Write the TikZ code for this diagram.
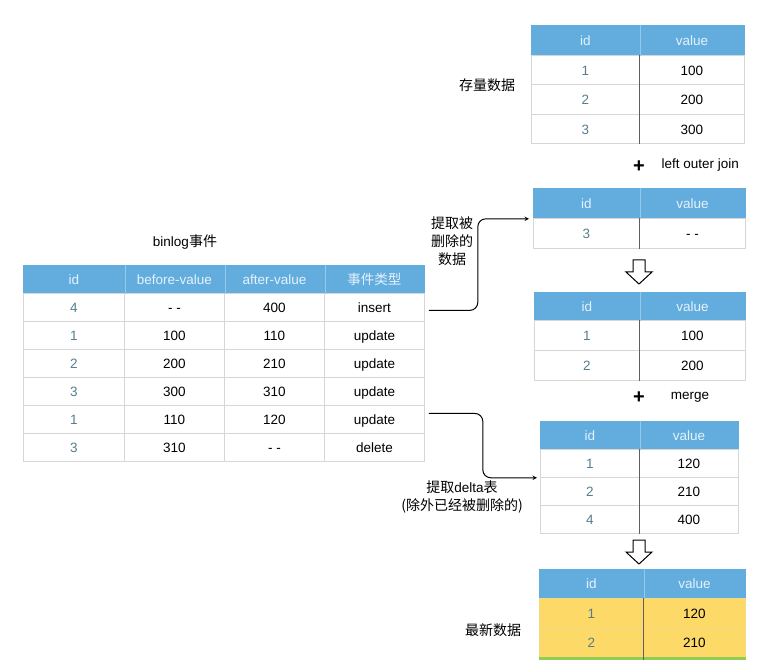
\documentclass[tikz,border=0pt]{standalone}
\usepackage{fontspec}
\setmainfont{Liberation Sans}
\newfontfamily\cjk{Noto Sans CJK SC}
\usetikzlibrary{calc}

\definecolor{hdrblue}{RGB}{99,173,222}
\definecolor{hdrtext}{RGB}{228,242,251}
\definecolor{hdrdiv}{RGB}{150,200,235}
\definecolor{gridgray}{RGB}{214,214,214}
\definecolor{divgray}{RGB}{95,95,95}
\definecolor{idgray}{RGB}{85,125,140}
\definecolor{rowyellow}{RGB}{253,217,104}
\definecolor{rowgreen}{RGB}{144,205,82}

\tikzset{
  cell/.style={anchor=north west, inner sep=0pt, fill=white, draw=gridgray, line width=0.8pt,
    text=black, text height=11.5pt, text depth=1.5pt},
  hdr/.style={cell, fill=hdrblue, draw=hdrblue, text=hdrtext},
  idcell/.style={cell, text=idgray},
  newcell/.style={cell, fill=rowyellow, draw=rowyellow!75!gridgray},
  coldiv/.style={divgray, line width=0.8pt},
  flow/.style={->, >=stealth, line width=1pt, rounded corners=8pt},
  cnlabel/.style={font=\cjk\fontsize{14}{18}\selectfont, align=center},
  plus/.style={font=\fontsize{20}{20}\selectfont\bfseries},
  hollowdown/.pic={
    \draw[line width=1pt, fill=white, line join=miter]
      (-6,0) -- (6,0) -- (6,12) -- (13,12) -- (0,24) -- (-13,12) -- (-6,12) -- cycle;
  }
}

\begin{document}
\begin{tikzpicture}[x=1pt, y=-1pt, font=\fontsize{13.5}{16}\selectfont]
\useasboundingbox[fill=white] (0,0) rectangle (772,660);

% stock data
\node[hdr, minimum width=108pt, minimum height=30pt] (t1-h1) at (531,25) {id};
\node[hdr, minimum width=105pt, minimum height=30pt] (t1-h2) at (639,25) {value};
\foreach \r/\k/\v in {1/1/100, 2/2/200, 3/3/300}{
  \node[idcell, minimum width=108pt, minimum height=29.5pt] (t1-\r-1) at (531,{55+(\r-1)*29.5}) {\k};
  \node[cell, minimum width=105pt, minimum height=29.5pt] (t1-\r-2) at (639,{55+(\r-1)*29.5}) {\v};
}
\draw[hdrdiv] (t1-h1.north east) -- (t1-h1.south east);
\draw[coldiv] (t1-1-1.north east) -- (t1-3-1.south east);
\node[cnlabel] (s1) at (487,85) {存量数据};

\node[plus] (p1) at (639,167) {+};
\node[anchor=west] (j1) at (658,165) {left outer join};

% deleted rows
\node[hdr, minimum width=106pt, minimum height=30pt] (t2-h1) at (533,188) {id};
\node[hdr, minimum width=106pt, minimum height=30pt] (t2-h2) at (639,188) {value};
\node[idcell, minimum width=106pt, minimum height=30pt] (t2-1-1) at (533,218) {3};
\node[cell, minimum width=106pt, minimum height=30pt] (t2-1-2) at (639,218) {- -};
\draw[hdrdiv] (t2-h1.north east) -- (t2-h1.south east);
\draw[coldiv] (t2-1-1.north east) -- (t2-1-1.south east);

\pic at (639,260) {hollowdown};

% stock minus deleted
\node[hdr, minimum width=105pt, minimum height=28pt] (t3-h1) at (534,292) {id};
\node[hdr, minimum width=106pt, minimum height=28pt] (t3-h2) at (639,292) {value};
\foreach \r/\k/\v in {1/1/100, 2/2/200}{
  \node[idcell, minimum width=105pt, minimum height=30pt] (t3-\r-1) at (534,{320+(\r-1)*30}) {\k};
  \node[cell, minimum width=106pt, minimum height=30pt] (t3-\r-2) at (639,{320+(\r-1)*30}) {\v};
}
\draw[hdrdiv] (t3-h1.north east) -- (t3-h1.south east);
\draw[coldiv] (t3-1-1.north east) -- (t3-2-1.south east);

\node[plus] (p2) at (639,398) {+};
\node (m1) at (690,397) {merge};

% delta table
\node[hdr, minimum width=99pt, minimum height=28pt] (t4-h1) at (540,421) {id};
\node[hdr, minimum width=99pt, minimum height=28pt] (t4-h2) at (639,421) {value};
\foreach \r/\k/\v in {1/1/120, 2/2/210, 3/4/400}{
  \node[idcell, minimum width=99pt, minimum height=28pt] (t4-\r-1) at (540,{449+(\r-1)*28}) {\k};
  \node[cell, minimum width=99pt, minimum height=28pt] (t4-\r-2) at (639,{449+(\r-1)*28}) {\v};
}
\draw[hdrdiv] (t4-h1.north east) -- (t4-h1.south east);
\draw[coldiv] (t4-1-1.north east) -- (t4-3-1.south east);

\pic at (639,540) {hollowdown};

% latest data
\node[hdr, minimum width=104pt, minimum height=29pt] (t5-h1) at (539,569) {id};
\node[hdr, minimum width=102pt, minimum height=29pt] (t5-h2) at (643,569) {value};
\foreach \r/\k/\v in {1/1/120, 2/2/210}{
  \node[newcell, text=idgray, minimum width=104pt, minimum height=29.5pt] (t5-\r-1) at (539,{598+(\r-1)*29.5}) {\k};
  \node[newcell, minimum width=102pt, minimum height=29.5pt] (t5-\r-2) at (643,{598+(\r-1)*29.5}) {\v};
}
\node[cell, fill=rowgreen, draw=rowgreen, minimum width=104pt, minimum height=29pt] (t5-3-1) at (539,657) {};
\node[cell, fill=rowgreen, draw=rowgreen, minimum width=102pt, minimum height=29pt] (t5-3-2) at (643,657) {};
\draw[hdrdiv] (t5-h1.north east) -- (t5-h1.south east);
\draw[coldiv] (t5-1-1.north east) -- (t5-3-1.south east);
\node[cnlabel] (s5) at (493,630) {最新数据};

% binlog events
\node (s2) at (185,242) {binlog{\cjk\fontsize{14}{18}\selectfont 事件}};
\foreach \c/\x/\w/\t in {1/23/101pt/id, 2/124/100pt/before-value, 3/224/100pt/after-value, 4/324/100pt/{\cjk 事件类型}}
  \node[hdr, minimum width=\w, minimum height=28pt] (b-h\c) at (\x,265) {\t};
\foreach \r/\a/\b/\c/\d in {1/4/- -/400/insert, 2/1/100/110/update, 3/2/200/210/update,
    4/3/300/310/update, 5/1/110/120/update, 6/3/310/- -/delete}{
  \node[idcell, minimum width=101pt, minimum height=28pt] (b-\r-1) at (23,{293+(\r-1)*28}) {\a};
  \node[cell, minimum width=100pt, minimum height=28pt] (b-\r-2) at (124,{293+(\r-1)*28}) {\b};
  \node[cell, minimum width=100pt, minimum height=28pt] (b-\r-3) at (224,{293+(\r-1)*28}) {\c};
  \node[cell, minimum width=100pt, minimum height=28pt] (b-\r-4) at (324,{293+(\r-1)*28}) {\d};
}
\foreach \c in {1,2,3}
  \draw[hdrdiv] (b-h\c.north east) -- (b-h\c.south east);

% extraction arrows
\draw[flow] ([xshift=4pt,yshift=-3pt]b-1-4.east) -- ++(49,0) |- ([xshift=-4pt]t2-h1.south west);
\node[cnlabel] (l1) at (452,241) {提取被\\删除的\\数据};

\draw[flow] ([xshift=4pt,yshift=6pt]b-5-4.east) -- ++(54,0) |- ([xshift=-3pt]t4-1-1.south west);
\node[cnlabel] (l2) at (462,497) {提取{\fontspec{Liberation Sans}\fontsize{13.5}{18}\selectfont delta}表\\(除外已经被删除的)};
\end{tikzpicture}
\end{document}
